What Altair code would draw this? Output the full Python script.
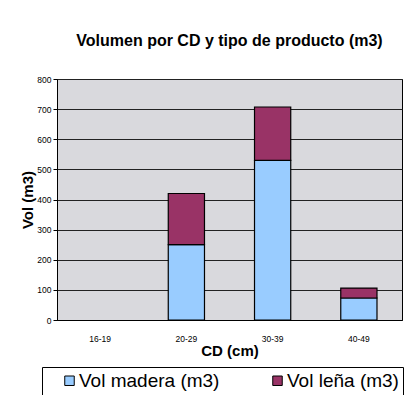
import altair as alt
import pandas as pd

categories = ["16-19", "20-29", "30-39", "40-49"]
vol_madera = [0, 250, 530, 73]
vol_lena = [0, 170, 177, 33]
series = ["Vol madera (m3)", "Vol leña (m3)"]
colors = ["#99ccff", "#993366"]
y_ticks = [0, 100, 200, 300, 400, 500, 600, 700, 800]

rows = []
for c, m, l in zip(categories, vol_madera, vol_lena):
    rows.append({"CD": c, "Serie": series[0], "Vol": m, "orden": 0})
    rows.append({"CD": c, "Serie": series[1], "Vol": l, "orden": 1})
df = pd.DataFrame(rows)

font = "Liberation Sans"

chart = alt.Chart(df).transform_filter("datum.Vol > 0").mark_bar(
    stroke="black", strokeWidth=1.2
).encode(
    x=alt.X("CD:N", sort=categories,
            scale=alt.Scale(domain=categories, paddingInner=0.58, paddingOuter=0.29),
            axis=alt.Axis(title="CD (cm)", labelAngle=0, labelFontSize=8.5,
                          labelColor="black", titleFontSize=15, titleFontWeight="bold",
                          titleColor="black", domainColor="black", tickColor="black",
                          labelPadding=14, titlePadding=1, ticks=False)),
    y=alt.Y("Vol:Q", stack="zero",
            scale=alt.Scale(domain=[0, 800], nice=False),
            axis=alt.Axis(title="Vol (m3)", values=y_ticks, labelFontSize=8.5,
                          labelColor="black", titleFontSize=15, titleFontWeight="bold",
                          titleColor="black", domainColor="black", tickColor="black",
                          tickSize=4, labelPadding=2, titlePadding=1,
                          gridColor="#222222", gridWidth=1)),
    color=alt.Color("Serie:N", sort=series,
                    scale=alt.Scale(domain=series, range=colors),
                    legend=alt.Legend(title=None, orient="none", legendX=-15, legendY=288,
                                      direction="horizontal", symbolType="square",
                                      symbolSize=90, symbolStrokeColor="black",
                                      symbolStrokeWidth=1, labelFontSize=19,
                                      labelColor="black", columnPadding=34,
                                      padding=4, strokeColor="black",
                                      fillColor="white", labelOffset=0,
                                      symbolOffset=14)),
    order=alt.Order("orden:Q"),
).properties(
    width=345, height=241,
    title=alt.TitleParams("Volumen por CD y tipo de producto (m3)", fontSize=16,
                          fontWeight="bold", color="black", anchor="middle", offset=26),
    autosize=alt.AutoSizeParams(type="none"),
    padding={"left": 49, "top": 71, "right": 2, "bottom": 75},
).configure(font=font).configure_view(fill="#d9d9dd", stroke="black", strokeWidth=1)

chart.save("out.html", embed_options={"renderer": "svg", "actions": False})
